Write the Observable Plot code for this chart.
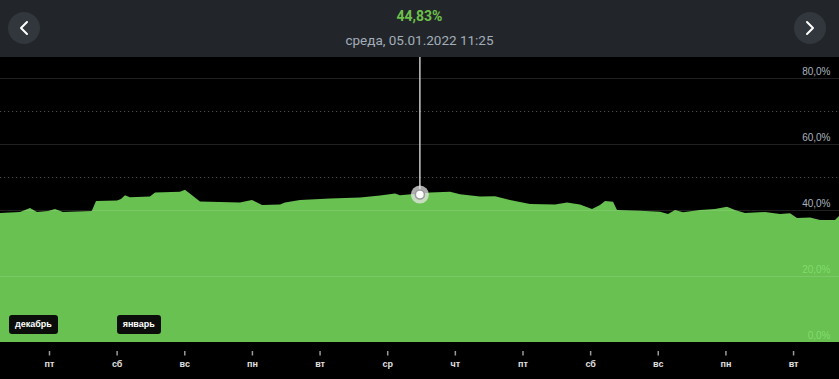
<!DOCTYPE html>
<html>
<head>
<meta charset="utf-8">
<script src="https://cdn.jsdelivr.net/npm/d3@7"></script>
<script src="https://cdn.jsdelivr.net/npm/@observablehq/plot@0.6"></script>
<style>
  html, body { margin: 0; padding: 0; background: #000; width: 839px; height: 379px; overflow: hidden; font-family: Roboto, "Liberation Sans", sans-serif; }
  #header { position: relative; height: 57px; background: #22262b; }
  #title { position: absolute; left: 0; right: 0; top: 8px; text-align: center; color: #6cc04a; font-weight: bold; font-size: 14px; }
  #subtitle { position: absolute; left: 0; right: 0; top: 32px; text-align: center; color: #a3adb8; font-size: 13.5px; }
  .btn { position: absolute; top: 12px; width: 32px; height: 32px; border-radius: 50%; background: #32373d; }
  .btn svg { position: absolute; left: 0; top: 0; }
  #chart { position: relative; }
  .month { position: absolute; top: 258px; height: 19px; padding: 0 6px; border-radius: 3px; background: #0a0d0a; color: #fff; font-family: "Liberation Sans", Arial, sans-serif; font-weight: bold; font-size: 9px; line-height: 19px; white-space: nowrap; }
</style>
</head>
<body>
<div id="header">
  <div class="btn" style="left:8px"><svg width="32" height="32"><path d="M19 10 L13 16 L19 22" fill="none" stroke="#fff" stroke-width="2" stroke-linecap="round" stroke-linejoin="round"/></svg></div>
  <div id="title"></div>
  <div id="subtitle"></div>
  <div class="btn" style="left:794px"><svg width="32" height="32"><path d="M13 10 L19 16 L13 22" fill="none" stroke="#fff" stroke-width="2" stroke-linecap="round" stroke-linejoin="round"/></svg></div>
</div>
<div id="chart"></div>
<script>
// ---- data ----
const times = [
  "2021-12-30T06:37","2021-12-30T13:43","2021-12-30T17:16","2021-12-30T19:45","2021-12-30T23:39",
  "2021-12-31T02:08","2021-12-31T04:58","2021-12-31T15:10","2021-12-31T16:41","2022-01-01T00:08",
  "2022-01-01T01:33","2022-01-01T02:58","2022-01-01T04:44","2022-01-01T11:50","2022-01-01T13:37",
  "2022-01-01T22:29","2022-01-02T00:15","2022-01-02T05:35","2022-01-02T19:46","2022-01-02T22:15",
  "2022-01-03T00:02","2022-01-03T03:35","2022-01-03T09:58","2022-01-03T11:44","2022-01-03T17:04",
  "2022-01-04T03:42","2022-01-04T14:21","2022-01-04T21:27","2022-01-05T02:46","2022-01-05T04:32",
  "2022-01-05T08:27","2022-01-05T11:25","2022-01-05T15:11","2022-01-05T22:17","2022-01-06T01:50",
  "2022-01-06T08:56","2022-01-06T14:15","2022-01-06T19:34","2022-01-07T02:40","2022-01-07T11:32",
  "2022-01-07T15:48","2022-01-07T20:24","2022-01-08T00:40","2022-01-08T03:30","2022-01-08T05:17",
  "2022-01-08T08:07","2022-01-08T09:32","2022-01-08T17:42","2022-01-09T00:48","2022-01-09T03:38",
  "2022-01-09T06:07","2022-01-09T08:57","2022-01-09T14:59","2022-01-09T20:18","2022-01-10T00:34",
  "2022-01-10T03:24","2022-01-10T06:57","2022-01-10T14:03","2022-01-10T19:22","2022-01-10T22:55",
  "2022-01-11T01:24","2022-01-11T06:01","2022-01-11T09:34","2022-01-11T14:53","2022-01-11T16:18"
];
const values = [
  39.1, 39.4, 40.6, 39.4, 39.7,
  40.3, 39.4, 39.7, 42.7, 42.9,
  43.3, 44.5, 43.9, 44.1, 45.3,
  45.5, 46.1, 42.6, 42.3, 42.7,
  43.0, 41.5, 41.7, 42.3, 43.0,
  43.5, 43.8, 44.4, 45.0, 44.5,
  44.8, 44.83, 45.3, 45.5, 44.8,
  44.1, 44.2, 43.0, 41.8, 41.7,
  42.3, 41.7, 40.3, 41.5, 42.7,
  42.5, 40.0, 39.8, 39.5, 38.8,
  40.0, 39.3, 40.0, 40.3, 41.0,
  40.0, 39.1, 39.4, 38.8, 39.0,
  37.6, 37.7, 37.0, 37.0, 38.2
];
const xDomain = ["2021-12-30T06:37", "2022-01-11T16:18"];
const dayTicks = ["2021-12-31","2022-01-01","2022-01-02","2022-01-03","2022-01-04","2022-01-05",
                  "2022-01-06","2022-01-07","2022-01-08","2022-01-09","2022-01-10","2022-01-11"];
const dayLabels = ["пт","сб","вс","пн","вт","ср","чт","пт","сб","вс","пн","вт"];
const gridSolid = [20, 40, 60, 80];
const gridDotted = [50, 70];
const gridLabels = [0, 20, 40, 60, 80];
const months = [{name: "декабрь", start: "2021-12-30T06:37"}, {name: "январь", start: "2022-01-01"}];
const selected = {time: "2022-01-05T11:25", value: 44.83, label: "среда, 05.01.2022 11:25"};

// ---- build ----
const utc = s => new Date(s.length === 10 ? s + "T00:00Z" : s + "Z");
const data = times.map((t, i) => ({t: utc(t), v: values[i]}));
const ticks = dayTicks.map(utc);
const labelMap = new Map(ticks.map((d, i) => [+d, dayLabels[i]]));
const fmtPct = v => v.toFixed(1).replace(".", ",") + "%";
const sel = {t: utc(selected.time), v: selected.value};

document.getElementById("title").textContent = selected.value.toFixed(2).replace(".", ",") + "%";
document.getElementById("subtitle").textContent = selected.label;

const plot = Plot.plot({
  width: 839,
  height: 322,
  marginLeft: 0,
  marginRight: 0,
  marginTop: 21,
  marginBottom: 37,
  style: {background: "#000", overflow: "visible", fontFamily: "'Liberation Sans', Arial, sans-serif"},
  x: {type: "utc", domain: xDomain.map(utc), axis: null, label: null},
  y: {domain: [0, 80], axis: null, label: null},
  marks: [
    Plot.text(gridLabels, {x: () => utc(xDomain[1]), y: d => d, text: fmtPct, textAnchor: "end", dx: -9, dy: -7, fill: "#a9b3be", fontSize: 10}),
    Plot.areaY(data, {x: "t", y: "v", fill: "#7ae35e", fillOpacity: 0.85, curve: "linear"}),
    Plot.ruleY(gridSolid, {stroke: "#fff", strokeOpacity: 0.13, strokeWidth: 1}),
    Plot.ruleY(gridDotted, {stroke: "#fff", strokeOpacity: 0.3, strokeDasharray: "1.2,2.8", strokeWidth: 1}),
    Plot.ruleX([sel], {x: "t", y1: "v", y2: () => 86.4, stroke: "#c8c8c8", strokeWidth: 1.5}),
    Plot.dot([sel], {x: "t", y: "v", r: 9, fill: "#e6e6e6", fillOpacity: 0.75, stroke: "none"}),
    Plot.dot([sel], {x: "t", y: "v", r: 4.5, fill: "#fff", stroke: "#9a9a9a", strokeWidth: 1.5}),
    Plot.axisX(ticks, {tickFormat: d => labelMap.get(+d), label: null, tickSize: 4.5, tickPadding: 5, dy: 9, stroke: "#9a9a9a", strokeWidth: 1.5, fill: "#e0e0e0", fontSize: 9, fontWeight: "bold"})
  ]
});
const chart = document.getElementById("chart");
chart.appendChild(plot);
const xs = plot.scale("x");
for (const m of months) {
  const div = document.createElement("div");
  div.className = "month";
  div.textContent = m.name;
  div.style.left = Math.max(9, xs.apply(utc(m.start))) + "px";
  chart.appendChild(div);
}
</script>
</body>
</html>
